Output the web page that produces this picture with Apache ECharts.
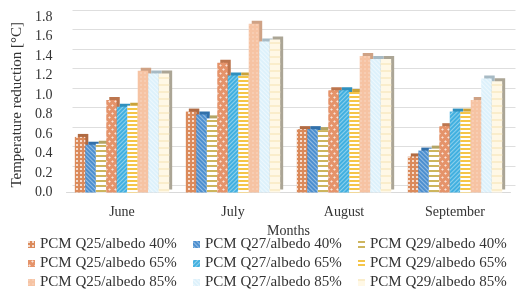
<!DOCTYPE html>
<html>
<head>
<meta charset="utf-8">
<script src="https://cdn.jsdelivr.net/npm/echarts@6/dist/echarts.min.js"></script>
<style>
    html, body { margin: 0; padding: 0; background: #fff; }
    #chart { width: 520px; height: 302px; }
</style>
</head>
<body>
<div id="chart"></div>
<script>
// months on the x axis
var months = ['June', 'July', 'August', 'September'];

// temperature reduction [°C] per case
var q25Albedo40 = [0.57, 0.83, 0.65, 0.37];
var q27Albedo40 = [0.49, 0.80, 0.65, 0.43];
var q29Albedo40 = [0.50, 0.76, 0.64, 0.45];
var q25Albedo65 = [0.95, 1.33, 1.05, 0.68];
var q27Albedo65 = [0.88, 1.20, 1.05, 0.83];
var q29Albedo65 = [0.89, 1.20, 1.03, 0.83];
var q25Albedo85 = [1.25, 1.73, 1.40, 0.95];
var q27Albedo85 = [1.22, 1.55, 1.37, 1.17];
var q29Albedo85 = [1.22, 1.57, 1.37, 1.14];

var seriesNames = [
    'PCM Q25/albedo 40%', 'PCM Q27/albedo 40%', 'PCM Q29/albedo 40%',
    'PCM Q25/albedo 65%', 'PCM Q27/albedo 65%', 'PCM Q29/albedo 65%',
    'PCM Q25/albedo 85%', 'PCM Q27/albedo 85%', 'PCM Q29/albedo 85%'
];
var seriesData = [
    q25Albedo40, q27Albedo40, q29Albedo40,
    q25Albedo65, q27Albedo65, q29Albedo65,
    q25Albedo85, q27Albedo85, q29Albedo85
];

// fill, side (fake 3d depth) and pattern of every series
var styles = [
    { color: '#DB8A5B', side: '#B06A42',
      decal: { symbol: 'rect', symbolSize: 1, color: 'rgba(255,255,255,0.7)', dashArrayX: [2, 2], dashArrayY: [2, 2] } },
    { color: '#4C8FCF', side: '#3270AA',
      decal: { symbol: 'rect', symbolSize: 1, color: 'rgba(255,255,255,0.4)', dashArrayX: [1, 0], dashArrayY: [1, 2], rotation: Math.PI / 4 } },
    { color: '#FFFFFF', side: '#B4A565',
      decal: { symbol: 'rect', symbolSize: 1, color: '#CDB55E', dashArrayX: [1, 0], dashArrayY: [2, 3] } },
    { color: '#E5936A', side: '#BC754E',
      decal: { symbol: 'diamond', symbolSize: 0.9, color: 'rgba(255,255,255,0.75)', dashArrayX: [[3, 3], [0, 3, 3, 0]], dashArrayY: [3, 0.5] } },
    { color: '#41B0E0', side: '#2F90BE',
      decal: { symbol: 'rect', symbolSize: 1, color: 'rgba(255,255,255,0.4)', dashArrayX: [1, 0], dashArrayY: [1, 2], rotation: -Math.PI / 4 } },
    { color: '#FFFFFF', side: '#C9A23A',
      decal: { symbol: 'rect', symbolSize: 1, color: '#F5C548', dashArrayX: [1, 0], dashArrayY: [2, 2] } },
    { color: '#F6C3A3', side: '#CFA285',
      decal: { symbol: 'rect', symbolSize: 1, color: 'rgba(255,255,255,0.18)', dashArrayX: [2, 2], dashArrayY: [2, 2] } },
    { color: '#DDF1FB', side: '#A7BAC4',
      decal: { symbol: 'rect', symbolSize: 1, color: 'rgba(255,255,255,0.5)', dashArrayX: [1, 0], dashArrayY: [1, 2], rotation: Math.PI / 4 } },
    { color: '#FFF8E6', side: '#ABA595',
      decal: { symbol: 'rect', symbolSize: 1, color: '#FAEDCB', dashArrayX: [1, 0], dashArrayY: [2, 5] } }
];

var fontFamily = 'Liberation Serif';
var textColor = '#333333';

var chart = echarts.init(document.getElementById('chart'), null, { renderer: 'canvas' });

var series = [];
// back bars, drawn in a grid moved 3px right and up -> side / top face
for (var i = 0; i < seriesNames.length; i++) {
    series.push({
        name: 'depth ' + i,
        type: 'bar',
        xAxisIndex: 1,
        yAxisIndex: 1,
        barGap: '0%',
        barCategoryGap: '15%',
        data: seriesData[i],
        z: 1,
        silent: true,
        itemStyle: { color: styles[i].side },
        emphasis: { disabled: true }
    });
}
// front bars with patterns
for (var j = 0; j < seriesNames.length; j++) {
    series.push({
        name: seriesNames[j],
        type: 'bar',
        barGap: '0%',
        barCategoryGap: '15%',
        data: seriesData[j],
        z: 2,
        itemStyle: {
            color: styles[j].color,
            decal: styles[j].decal
        },
        emphasis: { disabled: true }
    });
}

// three legend columns
function makeLegend(left, names) {
    return {
        orient: 'vertical',
        left: left,
        top: 237,
        itemWidth: 7,
        itemHeight: 7,
        itemGap: 4,
        padding: 0,
        icon: 'rect',
        textStyle: { fontFamily: fontFamily, fontSize: 15, color: textColor },
        data: names
    };
}

var option = {
    animation: false,
    aria: { enabled: false, decal: { show: true } },
    legend: [
        makeLegend(28, [seriesNames[0], seriesNames[3], seriesNames[6]]),
        makeLegend(193, [seriesNames[1], seriesNames[4], seriesNames[7]]),
        makeLegend(358, [seriesNames[2], seriesNames[5], seriesNames[8]])
    ],
    grid: [
        { left: 66.5, right: 9.5, top: 17, bottom: 109.5, outerBoundsMode: 'none' },
        { left: 69.5, right: 6.5, top: 14, bottom: 112.5, outerBoundsMode: 'none' },
        // back wall with the gridlines
        { left: 72.5, right: 4.5, top: 10, bottom: 116.5, outerBoundsMode: 'none' }
    ],
    xAxis: [{
        type: 'category',
        data: months,
        name: 'Months',
        nameLocation: 'middle',
        nameGap: 29,
        nameTextStyle: { fontFamily: fontFamily, fontSize: 14, color: textColor },
        axisLine: { lineStyle: { color: '#D9D9D9' } },
        axisTick: { show: false },
        axisLabel: { fontFamily: fontFamily, fontSize: 14, color: textColor, margin: 13 }
    }, {
        type: 'category',
        gridIndex: 1,
        data: months,
        show: false
    }, {
        type: 'category',
        gridIndex: 2,
        data: months,
        show: false
    }],
    yAxis: [{
        type: 'value',
        min: 0,
        max: 1.8,
        interval: 0.2,
        name: 'Temperature reduction [°C]',
        nameLocation: 'middle',
        nameGap: 35,
        nameTextStyle: { fontFamily: fontFamily, fontSize: 15, color: textColor },
        axisLine: { show: false },
        axisTick: { show: false },
        splitLine: { show: false },
        axisLabel: {
            fontFamily: fontFamily, fontSize: 14, color: textColor, margin: 14,
            formatter: function (v) { return v.toFixed(1); }
        }
    }, {
        type: 'value',
        gridIndex: 1,
        min: 0,
        max: 1.8,
        interval: 0.2,
        show: false,
        splitLine: { show: false }
    }, {
        type: 'value',
        gridIndex: 2,
        min: 0,
        max: 1.8,
        interval: 0.2,
        axisLine: { show: false },
        axisTick: { show: false },
        axisLabel: { show: false },
        splitLine: { lineStyle: { color: '#DEDEDE' } }
    }],
    series: series
};

chart.setOption(option);
</script>
</body>
</html>
